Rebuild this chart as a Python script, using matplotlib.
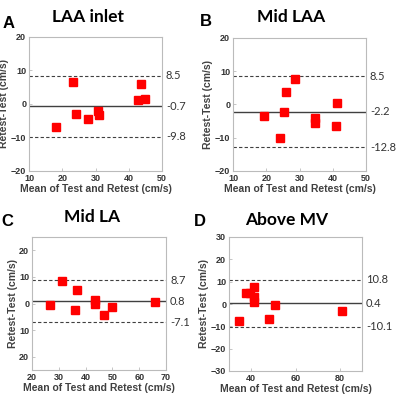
import matplotlib
matplotlib.use('Agg')
import matplotlib.pyplot as plt

# Panel data (Bland-Altman)
titles = ['LAA inlet', 'Mid LAA', 'Mid LA', 'Above MV']
letters = ['A', 'B', 'C', 'D']

a_x = [18.0, 23.2, 24.0, 27.8, 30.9, 31.0, 42.7, 43.8, 44.9]
a_y = [-6.8, 6.7, -3.1, -4.5, -2.0, -3.4, 1.3, 6.1, 1.5]
a_lines = [8.5, -0.7, -9.8]

b_x = [19.4, 24.2, 25.4, 25.8, 28.7, 34.7, 34.7, 40.9, 41.3]
b_y = [-3.4, -10.0, -2.2, 3.9, 7.6, -4.1, -5.5, -6.6, 0.5]
b_lines = [8.5, -2.2, -12.8]

c_x = [26.9, 31.25, 35.9, 36.9, 43.5, 43.6, 46.75, 50.0, 65.75]
c_y = [-0.5, 8.6, -2.6, 5.25, 1.5, 0.0, -4.5, -1.25, 0.5]
c_lines = [8.7, 0.8, -7.1]

d_x = [34.3, 37.6, 39.6, 41.5, 41.5, 41.4, 48.2, 50.6, 81.0]
d_y = [-7.5, 4.8, 4.8, 7.5, 3.3, 1.0, -6.75, -0.6, -3.0]
d_lines = [10.8, 0.4, -10.1]

xlims = [(10, 50), (10, 50), (20, 70), (30, 90)]
ylims = [(-20, 20), (-20, 20), (-25, 25), (-30, 30)]
xticks = [[10, 20, 30, 40, 50], [10, 20, 30, 40, 50], [20, 30, 40, 50, 60, 70], [40, 60, 80]]
yticks = [[-20, -10, 0, 10, 20], [-20, -10, 0, 10, 20], [-20, -10, 0, 10, 20], [-30, -20, -10, 0, 10, 20, 30]]
# panel C prints its negative ticks without the minus sign
c_yticklabels = ['20', '10', '0', '10', '20']

W, H = 400, 398
fig = plt.figure(figsize=(W / 100, H / 100), dpi=100)

# axes boxes in pixels: left, top, right, bottom
boxes = [(29, 37, 162, 171), (233, 38, 366, 171), (32, 237, 166, 370), (229, 237, 362, 371)]
title_pos = [(88, 17), (291, 17), (92, 217), (287, 220)]
letter_pos = [(9, 23), (206, 22), (7, 222), (200, 222)]

xs = [a_x, b_x, c_x, d_x]
ys = [a_y, b_y, c_y, d_y]
lines = [a_lines, b_lines, c_lines, d_lines]

gray = '#404040'
for i in range(4):
    l, t, r, b = boxes[i]
    ax = fig.add_axes([l / W, 1 - b / H, (r - l) / W, (b - t) / H])
    ax.plot(xs[i], ys[i], 's', color='#ff0000', markersize=5.5, zorder=3)
    ax.axhline(lines[i][1], color=gray, lw=1.0)
    ax.axhline(lines[i][0], color=gray, lw=0.8, ls=(0, (3, 2)))
    ax.axhline(lines[i][2], color=gray, lw=0.8, ls=(0, (3, 2)))
    ax.set_xlim(xlims[i])
    ax.set_ylim(ylims[i])
    ax.set_xticks(xticks[i])
    ax.set_yticks(yticks[i])
    if i == 2:
        ax.set_yticklabels(c_yticklabels)
    for s in ax.spines.values():
        s.set_color('#bbbbbb')
        s.set_linewidth(0.8)
    ax.tick_params(direction='in', length=2, width=0.6, color='#bbbbbb', labelsize=6.5,
                   labelcolor='#333333', pad=2)
    for lab in ax.get_xticklabels() + ax.get_yticklabels():
        lab.set_fontweight('bold')
        lab.set_family('Liberation Sans')
    ax.set_xlabel('Mean of Test and Retest (cm/s)', fontsize=7.5, fontweight='bold',
                  color=gray, family='Liberation Sans', labelpad=1)
    ax.set_ylabel('Retest-Test (cm/s)', fontsize=7.5, fontweight='bold',
                  color=gray, family='Liberation Sans', labelpad=1)
    for v in lines[i]:
        ax.text(1.03, v, '%.1f' % v, transform=ax.get_yaxis_transform(), fontsize=8,
                color='#333333', family='Lato', va='center', ha='left')
    tx, ty = title_pos[i]
    fig.text(tx / W, 1 - ty / H, titles[i], fontsize=12.5, fontweight='bold',
             family='Lato', ha='center', va='center')
    lx, ly = letter_pos[i]
    fig.text(lx / W, 1 - ly / H, letters[i], fontsize=12, fontweight='bold',
             family='Liberation Sans', ha='center', va='center')

fig.savefig('out.png', dpi=100)
